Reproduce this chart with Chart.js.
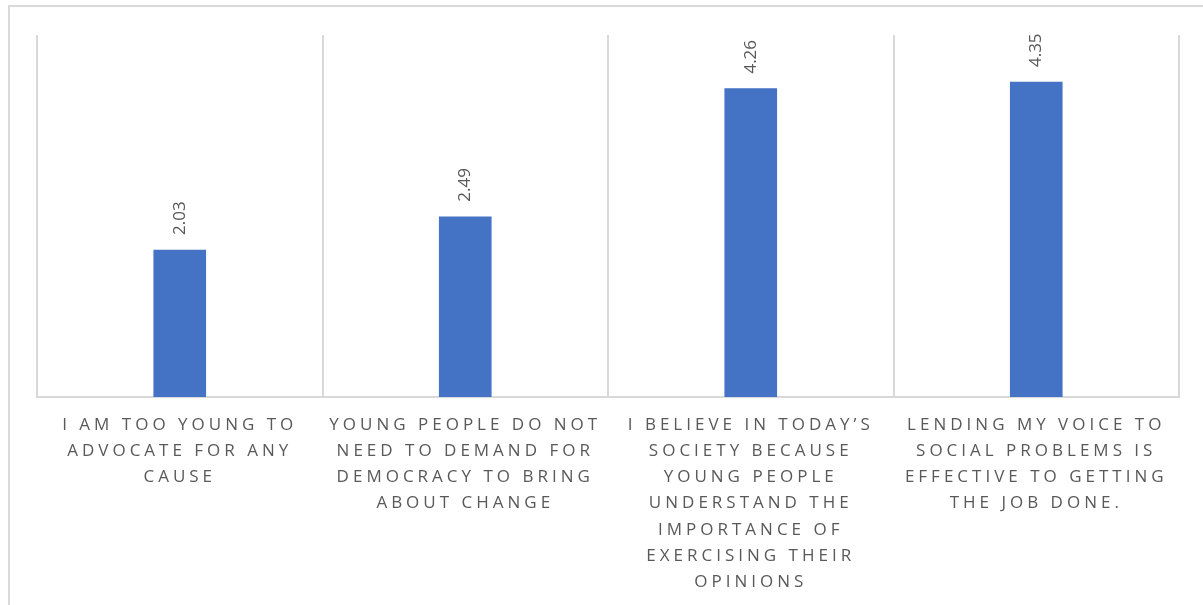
<!DOCTYPE html>
<html>
<head>
<meta charset="utf-8">
<script src="https://cdn.jsdelivr.net/npm/chart.js@4"></script>
<style>
  html, body { margin: 0; padding: 0; background: #fff; overflow: hidden; }
  #frame {
    position: absolute; left: 8px; top: 5px; width: 1300px; height: 700px;
    border: 2px solid #d9d9d9; box-sizing: border-box;
  }
  #wrap { position: absolute; left: 0; top: 0; width: 1203px; height: 605px; }
</style>
</head>
<body>
<div id="frame"></div>
<div id="wrap"><canvas id="chart" width="1203" height="605"></canvas></div>
<script>
const categories = [
  ["I AM TOO YOUNG TO", "ADVOCATE FOR ANY", "CAUSE"],
  ["YOUNG PEOPLE DO NOT", "NEED TO DEMAND FOR", "DEMOCRACY TO BRING", "ABOUT CHANGE"],
  ["I BELIEVE IN TODAY\u2019S", "SOCIETY BECAUSE", "YOUNG PEOPLE", "UNDERSTAND THE", "IMPORTANCE OF", "EXERCISING THEIR", "OPINIONS"],
  ["LENDING MY VOICE TO", "SOCIAL PROBLEMS IS", "EFFECTIVE TO GETTING", "THE JOB DONE."]
];
const scores = [2.03, 2.49, 4.26, 4.35];

const textColor = "#595959";
const fontFamily = "'Open Sans', 'Liberation Sans', sans-serif";

// spaced capitals on the axis, plain text for the value labels
const spacing = {
  id: "spacing",
  beforeUpdate(chart) { chart.ctx.letterSpacing = "4px"; },
  beforeDraw(chart) { chart.ctx.letterSpacing = "4px"; },
  beforeDatasetsDraw(chart) { chart.ctx.letterSpacing = "0px"; }
};

// values written upright above each bar
const valueLabels = {
  id: "valueLabels",
  afterDatasetsDraw(chart) {
    const ctx = chart.ctx;
    const meta = chart.getDatasetMeta(0);
    ctx.save();
    ctx.letterSpacing = "0px";
    ctx.font = "17px " + fontFamily;
    ctx.fillStyle = textColor;
    ctx.textAlign = "left";
    ctx.textBaseline = "middle";
    meta.data.forEach((bar, i) => {
      ctx.save();
      ctx.translate(bar.x, bar.y - 15);
      ctx.rotate(-Math.PI / 2);
      ctx.fillText(scores[i].toFixed(2), 0, 0);
      ctx.restore();
    });
    ctx.restore();
  }
};

new Chart(document.getElementById("chart"), {
  type: "bar",
  data: {
    labels: categories,
    datasets: [{
      data: scores,
      backgroundColor: "#4472C4",
      borderWidth: 0,
      barThickness: 52
    }]
  },
  options: {
    responsive: false,
    animation: false,
    layout: { padding: { left: 37, right: 24, top: 35, bottom: 0 } },
    plugins: {
      legend: { display: false },
      tooltip: { enabled: false }
    },
    scales: {
      x: {
        grid: { color: "#d9d9d9", lineWidth: 2, drawTicks: false, offset: true },
        border: { color: "#d9d9d9", width: 2 },
        ticks: {
          color: textColor,
          padding: 15,
          maxRotation: 0,
          autoSkip: false,
          font: { family: fontFamily, size: 17, lineHeight: 1.54 }
        },
        afterFit(scale) { scale.height = 208; }
      },
      y: {
        display: false,
        min: 0,
        max: 5
      }
    }
  },
  plugins: [spacing, valueLabels]
});
</script>
</body>
</html>
